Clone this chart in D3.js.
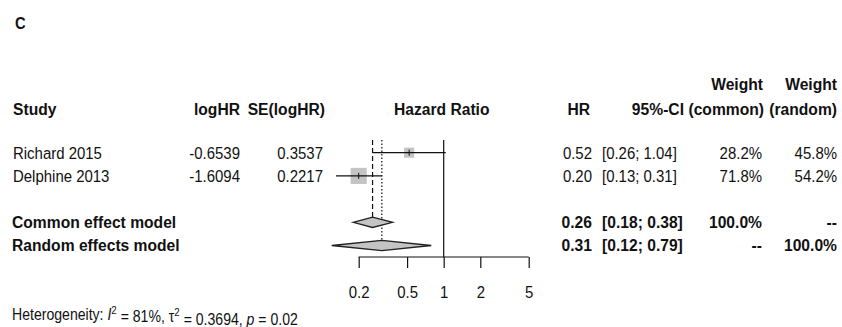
<!DOCTYPE html>
<html>
<head>
<meta charset="utf-8">
<script src="https://cdn.jsdelivr.net/npm/d3@7"></script>
<style>
  body { margin: 0; background: #fff; }
  text { font-family: "Liberation Sans", Arial, sans-serif; fill: #111; }
  .bold { font-weight: bold; }
</style>
</head>
<body>
<script>
// forest plot data
var studies = ["Richard 2015", "Delphine 2013"];
var logHR = ["-0.6539", "-1.6094"];
var seLogHR = ["0.3537", "0.2217"];
var hr = [0.52, 0.20];
var ciLow = [0.26, 0.13];
var ciHigh = [1.04, 0.31];
var wCommon = [28.2, 71.8];
var wRandom = [45.8, 54.2];

var models = ["Common effect model", "Random effects model"];
var modelHR = [0.26, 0.31];
var modelLow = [0.18, 0.12];
var modelHigh = [0.38, 0.79];
var modelWCommon = ["100.0%", "--"];
var modelWRandom = ["--", "100.0%"];

var axisTicks = [0.2, 0.5, 1, 2, 5];
var heterogeneity = { I2: "81%", tau2: "0.3694", p: "0.02" };

(function(){
    var width = 842, height = 327;
    var fs = 17;
    var squeeze = 0.88,      //narrow look of the original plain text
        squeezeBold = 0.92;

    var svg = d3.select("body").append("svg")
        .attr("width", width)
        .attr("height", height);

    // scales
    var x = d3.scaleLog().domain([0.2, 5]).range([358.7, 528.7]);
    var row = d3.scaleLinear().domain([0, 4]).range([152.7, 245.5]);

    var fmt2 = d3.format(".2f");
    function ciText(lo, hi){ return "[" + fmt2(lo) + "; " + fmt2(hi) + "]"; }

    //text placed at (xx, yy), squeezed horizontally round its anchor
    function label(txt, xx, yy, anchor, bold, size){
        return svg.append("text")
            .attr("class", bold ? "bold" : null)
            .attr("transform", "translate(" + xx + "," + yy + ") scale(" + (bold ? squeezeBold : squeeze) + ",1)")
            .attr("dy", "0.35em")
            .attr("text-anchor", anchor)
            .style("font-size", (size || fs) + "px")
            .text(txt);
    }

    // panel letter
    label("C", 15, 23, "start", true, 16);

    // header
    var hdrY = 109, hdr2Y = 84;
    label("Study", 13, hdrY, "start", true);
    label("logHR", 240, hdrY, "end", true);
    label("SE(logHR)", 325, hdrY, "end", true);
    label("Hazard Ratio", x(1) - 2, hdrY, "middle", true);
    label("HR", 590, hdrY, "end", true);
    label("95%-CI", 684, hdrY, "end", true);
    label("Weight", 763, hdr2Y, "end", true);
    label("(common)", 764, hdrY, "end", true);
    label("Weight", 837, hdr2Y, "end", true);
    label("(random)", 837, hdrY, "end", true);

    // reference lines
    var lineTop = 140;
    svg.append("line")
        .attr("x1", x(1)).attr("x2", x(1))
        .attr("y1", lineTop).attr("y2", 257)
        .attr("stroke", "#111").attr("stroke-width", 1.2);
    svg.append("line")
        .attr("x1", x(modelHR[0])).attr("x2", x(modelHR[0]))
        .attr("y1", lineTop).attr("y2", row(3) - 5)
        .attr("stroke", "#111").attr("stroke-width", 1.2)
        .attr("stroke-dasharray", "5,3");
    svg.append("line")
        .attr("x1", x(modelHR[1])).attr("x2", x(modelHR[1]))
        .attr("y1", lineTop).attr("y2", row(4) - 6)
        .attr("stroke", "#111").attr("stroke-width", 1.2)
        .attr("stroke-dasharray", "1.5,2");

    // studies
    var sqScale = 1.9;
    studies.forEach(function(s, i){
        var yy = row(i);
        label(s, 13, yy, "start");
        label(logHR[i], 240, yy, "end");
        label(seLogHR[i], 323, yy, "end");
        label(fmt2(hr[i]), 592, yy, "end");
        label(ciText(ciLow[i], ciHigh[i]), 602, yy, "start");
        label(wCommon[i].toFixed(1) + "%", 762, yy, "end");
        label(wRandom[i].toFixed(1) + "%", 837, yy, "end");

        var side = sqScale * Math.sqrt(wCommon[i]);
        svg.append("rect")
            .attr("x", x(hr[i]) - side / 2).attr("y", yy - side / 2)
            .attr("width", side).attr("height", side)
            .attr("fill", "#c4c4c4");
        svg.append("line")
            .attr("x1", x(ciLow[i])).attr("x2", x(ciHigh[i]))
            .attr("y1", yy).attr("y2", yy)
            .attr("stroke", "#111").attr("stroke-width", 1.2);
        svg.append("line")
            .attr("x1", x(hr[i])).attr("x2", x(hr[i]))
            .attr("y1", yy - 3).attr("y2", yy + 3)
            .attr("stroke", "#111").attr("stroke-width", 1);
    });

    // pooled models
    models.forEach(function(m, i){
        var yy = row(i + 3);
        label(m, 12, yy, "start", true);
        label(fmt2(modelHR[i]), 592, yy, "end", true);
        label(ciText(modelLow[i], modelHigh[i]), 602, yy, "start", true);
        label(modelWCommon[i], 762, yy, "end", true);
        label(modelWRandom[i], 837, yy, "end", true);

        var h = 5.2;
        var pts = [[x(modelLow[i]), yy], [x(modelHR[i]), yy - h],
                   [x(modelHigh[i]), yy], [x(modelHR[i]), yy + h]];
        svg.append("path")
            .attr("d", d3.line()(pts) + "Z")
            .attr("fill", "#c4c4c4")
            .attr("stroke", "#222").attr("stroke-width", 1.3);
    });

    // x axis
    var axisY = 257;
    var axis = svg.append("g")
        .attr("transform", "translate(0," + axisY + ")")
        .call(d3.axisBottom(x).tickValues(axisTicks)
            .tickFormat(d3.format("")).tickSize(11).tickPadding(18));
    axis.select(".domain").attr("stroke", "#111").attr("stroke-width", 1.2)
        .attr("d", "M" + x(0.2) + ",0H" + x(5));
    axis.selectAll(".tick line").attr("stroke", "#111").attr("stroke-width", 1.2);
    axis.selectAll(".tick text").style("font-size", fs + "px")
        .style("font-family", null).attr("fill", "#111")
        .attr("transform", "scale(" + squeeze + ",1)");

    // heterogeneity
    var het = label("", 12, 314, "start", false, 16);
    het.append("tspan").text("Heterogeneity: ");
    het.append("tspan").style("font-style", "italic").text("I");
    het.append("tspan").attr("dy", "-0.55em").style("font-size", "11px").text("2");
    het.append("tspan").attr("dy", "0.55em").text(" = " + heterogeneity.I2 + ", \u03c4");
    het.append("tspan").attr("dy", "-0.55em").style("font-size", "11px").text("2");
    het.append("tspan").attr("dy", "0.55em").text(" = " + heterogeneity.tau2 + ", ");
    het.append("tspan").style("font-style", "italic").text("p");
    het.append("tspan").text(" = " + heterogeneity.p);
})();
</script>
</body>
</html>
